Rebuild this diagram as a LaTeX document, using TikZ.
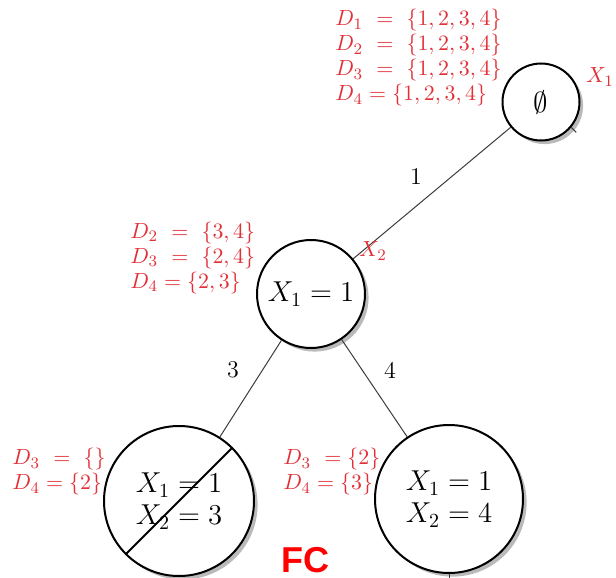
\documentclass[tikz,border=0pt]{standalone}
\usepackage{amsmath}
\usepackage{amssymb}
\usepackage{xcolor}
\usepackage{fontspec}
\usepackage{tikz}
\usetikzlibrary{shadows,positioning,calc}
\newfontfamily\fcfont{Liberation Sans}
\definecolor{domred}{RGB}{226,48,56}
\definecolor{edgegray}{RGB}{60,60,60}

\begin{document}
\begin{tikzpicture}[x=0.5pt, y=-0.5pt,
    state/.style={draw, circle, line width=1pt, fill=white, inner sep=0pt, align=center,
        drop shadow={shadow xshift=1.8pt, shadow yshift=-1.8pt, opacity=0.45, fill=black!60}},
    dom/.style={text=domred, align=left, anchor=west, inner sep=0pt,
        font=\fontsize{11}{12.5}\selectfont},
    varlabel/.style={text=domred, inner sep=0pt, font=\fontsize{11}{13}\selectfont},
    edge/.style={draw=edgegray, line width=0.5pt},
    elabel/.style={inner sep=0pt, font=\fontsize{12}{14}\selectfont}]
\useasboundingbox (0,0) rectangle (616,578);

% Search tree nodes
\node[state, minimum size=38.5pt, font=\fontsize{14}{16}\selectfont] (root) at (541,102) {$\emptyset$};
\node[state, minimum size=54pt, font=\fontsize{14}{16}\selectfont] (x1) at (311,294) {$X_1 = 1$};
\node[state, minimum size=75pt, font=\fontsize{14}{16}\selectfont] (x13) at (179,501) {$X_1 = 1$\\$X_2 = 3$};
\node[state, minimum size=74pt, font=\fontsize{14}{16}\selectfont] (x14) at (449,499) {$X_1 = 1$\\$X_2 = 4$};

% Branches
\draw[edge] (root) -- (x1);
\draw[edge] (x1) -- (x13);
\draw[edge] (x1) -- (x14);
\coordinate (rootstub) at ($(root.-40)+(5,5)$);
\draw[edge] (root.-40) -- (rootstub);
\coordinate (x14stub) at (449,578);
\draw[edge] (x14) -- (x14stub);

% Dead end (empty domain)
\draw[line width=1pt] (x13.south west) -- (x13.north east);

% Branch values
\node[elabel] (v1) at (416,177) {1};
\node[elabel] (v3) at (233,370) {3};
\node[elabel] (v4) at (390,370) {4};

% Variables
\node[varlabel] (lx1) at (600,77) {$X_1$};
\node[varlabel] (lx2) at (373,251) {$X_2$};

% Domains after forward checking
\node[dom] (d0) at (335,58) {$D_1 \ = \ \{1,2,3,4\}$\\$D_2 \ = \ \{1,2,3,4\}$\\$D_3 \ = \ \{1,2,3,4\}$\\$D_4 = \{1,2,3,4\}$};
\node[dom] (d1) at (130,258) {$D_2 \ = \ \{3,4\}$\\$D_3 \ = \ \{2,4\}$\\$D_4 = \{2,3\}$};
\node[dom] (d13) at (12,472) {$D_3 \ = \ \{\}$\\$D_4 = \{2\}$};
\node[dom] (d14) at (283,472) {$D_3 \ = \{2\}$\\$D_4 = \{3\}$};

\node[text=red, inner sep=0pt, font=\fcfont\bfseries\fontsize{18}{20}\selectfont] (fc) at (305,560) {FC};
\end{tikzpicture}
\end{document}
